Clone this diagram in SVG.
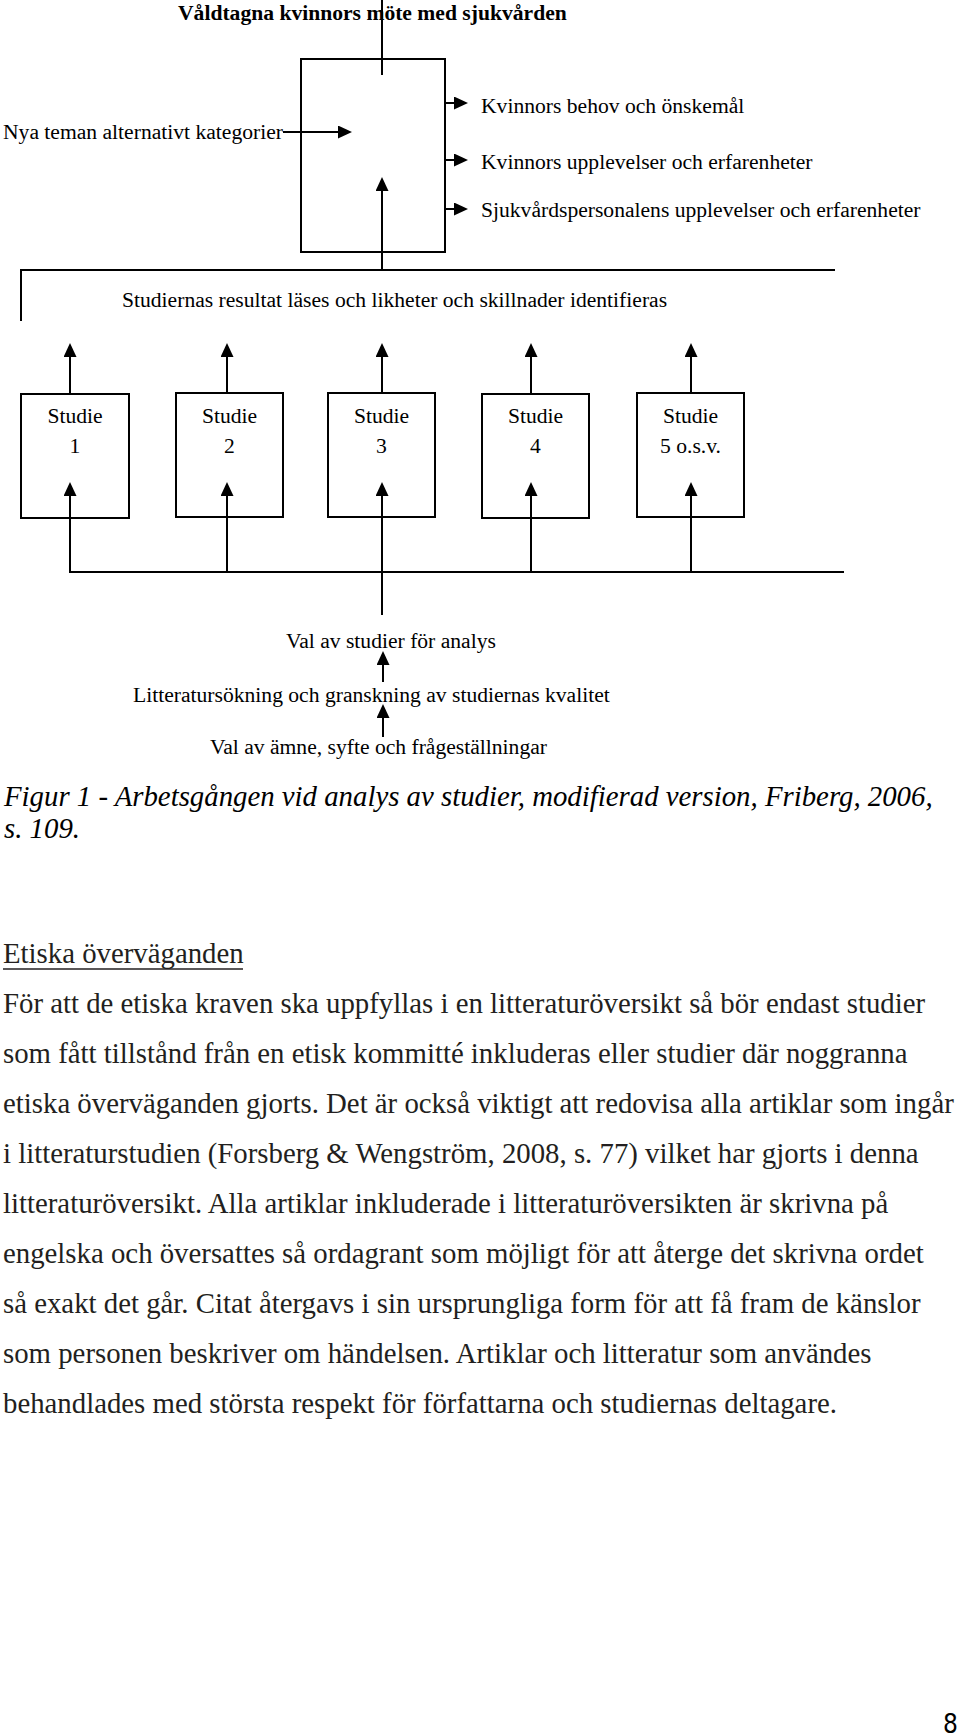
<svg xmlns="http://www.w3.org/2000/svg" width="960" height="1736" viewBox="0 0 960 1736">
<style>
.d{font-family:"Liberation Serif","Times New Roman",serif;font-size:21.6px;fill:#000}
.t{font-weight:bold}
.m{text-anchor:middle}
.c{font-family:"Liberation Serif","Times New Roman",serif;font-size:28.8px;font-style:italic;fill:#000}
.b{font-family:"Liberation Serif","Times New Roman",serif;font-size:28.8px;fill:#231f20}
.pn{font-family:"Liberation Sans Narrow","DejaVu Sans Condensed","Liberation Sans",sans-serif;font-size:26px;fill:#000;text-anchor:end}
.box{fill:#fff;stroke:#000;stroke-width:2}
.ln{fill:none;stroke:#000;stroke-width:2}
.ar{fill:none;stroke:#000;stroke-width:2;marker-end:url(#ah)}
</style>
<defs>
<marker id="ah" markerUnits="userSpaceOnUse" markerWidth="14" markerHeight="13" refX="10" refY="6.5" orient="auto">
<path d="M0,0 L14,6.5 L0,13 Z" fill="#000"/>
</marker>
</defs>
<rect width="960" height="1736" fill="#fff"/>

<g id="title">
<text class="d t" x="178" y="20">Våldtagna kvinnors möte med sjukvården</text>
</g>

<g id="main-box">
<rect class="box" x="301" y="59" width="144" height="193"/>
</g>

<g id="new-themes">
<text class="d" x="3" y="139">Nya teman alternativt kategorier</text>
</g>

<g id="out1"><text class="d" x="481" y="113">Kvinnors behov och önskemål</text></g>
<g id="out2"><text class="d" x="481" y="169">Kvinnors upplevelser och erfarenheter</text></g>
<g id="out3"><text class="d" x="481" y="217">Sjukvårdspersonalens upplevelser och erfarenheter</text></g>

<g id="results">
<text class="d" x="122" y="307">Studiernas resultat läses och likheter och skillnader identifieras</text>
</g>

<g id="studie1">
<rect class="box" x="21" y="394" width="108" height="124"/>
<text class="d m" x="75" y="423">Studie</text>
<text class="d m" x="75" y="453">1</text>
</g>
<g id="studie2">
<rect class="box" x="176" y="393" width="107" height="124"/>
<text class="d m" x="229.5" y="423">Studie</text>
<text class="d m" x="229.5" y="453">2</text>
</g>
<g id="studie3">
<rect class="box" x="328" y="393" width="107" height="124"/>
<text class="d m" x="381.5" y="423">Studie</text>
<text class="d m" x="381.5" y="453">3</text>
</g>
<g id="studie4">
<rect class="box" x="482" y="394" width="107" height="124"/>
<text class="d m" x="535.5" y="423">Studie</text>
<text class="d m" x="535.5" y="453">4</text>
</g>
<g id="studie5">
<rect class="box" x="637" y="393" width="107" height="124"/>
<text class="d m" x="690.5" y="423">Studie</text>
<text class="d m" x="690.5" y="453">5 o.s.v.</text>
</g>

<g id="step3"><text class="d" x="286" y="648">Val av studier för analys</text></g>
<g id="step2"><text class="d" x="133" y="702">Litteratursökning och granskning av studiernas kvalitet</text></g>
<g id="step1"><text class="d" x="210" y="754">Val av ämne, syfte och frågeställningar</text></g>

<g id="connectors">
<line class="ln" x1="382" y1="0" x2="382" y2="75"/>
<line class="ar" x1="283" y1="132" x2="348" y2="132"/>
<line class="ar" x1="382" y1="252" x2="382" y2="181"/>
<line class="ar" x1="445" y1="103" x2="464" y2="103"/>
<line class="ar" x1="445" y1="160" x2="464" y2="160"/>
<line class="ar" x1="445" y1="209" x2="464" y2="209"/>
<line class="ln" x1="382" y1="252" x2="382" y2="270"/>
<polyline class="ln" points="21,321 21,270 835,270"/>
<line class="ar" x1="70" y1="394" x2="70" y2="347"/>
<line class="ar" x1="227" y1="393" x2="227" y2="347"/>
<line class="ar" x1="382" y1="393" x2="382" y2="347"/>
<line class="ar" x1="531" y1="394" x2="531" y2="347"/>
<line class="ar" x1="691" y1="393" x2="691" y2="347"/>
<line class="ar" x1="70" y1="572" x2="70" y2="486"/>
<line class="ar" x1="227" y1="572" x2="227" y2="486"/>
<line class="ar" x1="382" y1="572" x2="382" y2="486"/>
<line class="ar" x1="531" y1="572" x2="531" y2="486"/>
<line class="ar" x1="691" y1="572" x2="691" y2="486"/>
<line class="ln" x1="69" y1="572" x2="844" y2="572"/>
<line class="ln" x1="382" y1="572" x2="382" y2="615"/>
<line class="ar" x1="383" y1="682" x2="383" y2="655"/>
<line class="ar" x1="383" y1="737" x2="383" y2="708"/>
</g>

<g id="caption">
<text class="c" x="4" y="806">Figur 1 - Arbetsgången vid analys av studier, modifierad version, Friberg, 2006,</text>
<text class="c" x="4" y="838">s. 109.</text>
</g>

<g id="body">
<text class="b" x="3" y="963">Etiska överväganden</text>
<line x1="3" y1="969" x2="243" y2="969" stroke="#231f20" stroke-width="1.5"/>
<text class="b" x="3" y="1013">För att de etiska kraven ska uppfyllas i en litteraturöversikt så bör endast studier</text>
<text class="b" x="3" y="1063">som fått tillstånd från en etisk kommitté inkluderas eller studier där noggranna</text>
<text class="b" x="3" y="1113">etiska överväganden gjorts. Det är också viktigt att redovisa alla artiklar som ingår</text>
<text class="b" x="3" y="1163">i litteraturstudien (Forsberg &amp; Wengström, 2008, s. 77) vilket har gjorts i denna</text>
<text class="b" x="3" y="1213">litteraturöversikt. Alla artiklar inkluderade i litteraturöversikten är skrivna på</text>
<text class="b" x="3" y="1263">engelska och översattes så ordagrant som möjligt för att återge det skrivna ordet</text>
<text class="b" x="3" y="1313">så exakt det går. Citat återgavs i sin ursprungliga form för att få fram de känslor</text>
<text class="b" x="3" y="1363">som personen beskriver om händelsen. Artiklar och litteratur som användes</text>
<text class="b" x="3" y="1413">behandlades med största respekt för författarna och studiernas deltagare.</text>
</g>

<g id="page-number">
<text class="pn" x="958" y="1733">8</text>
</g>
</svg>
